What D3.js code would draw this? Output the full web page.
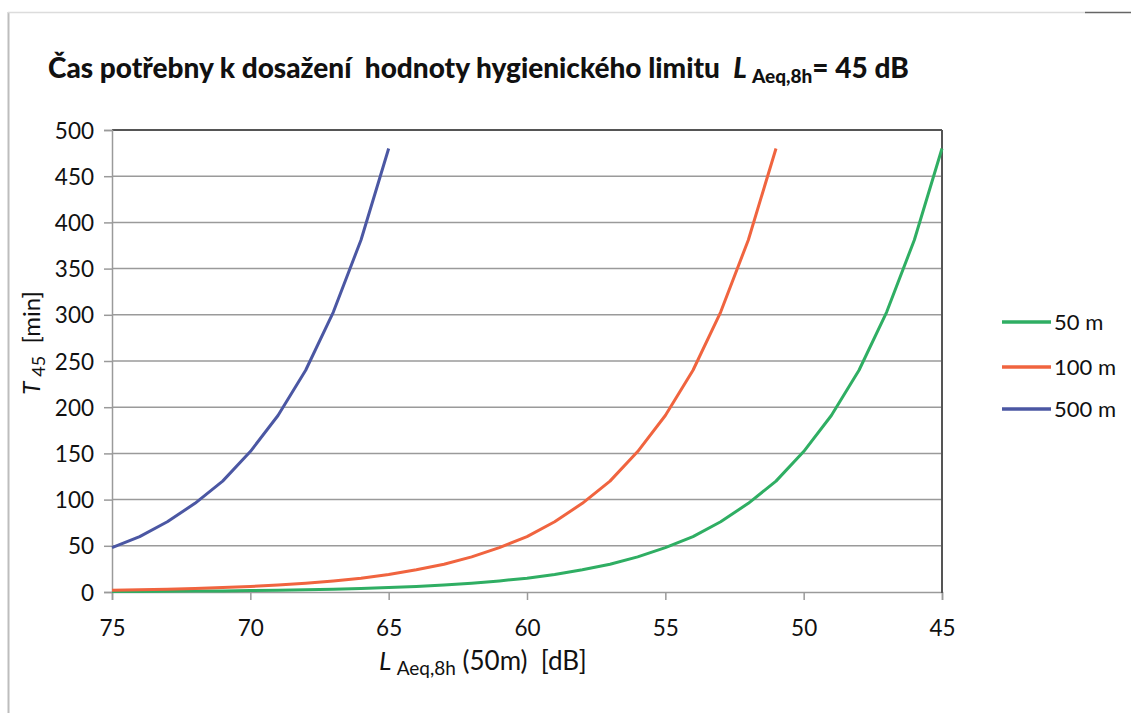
<!DOCTYPE html>
<html><head><meta charset="utf-8">
<script src="https://cdn.jsdelivr.net/npm/d3@7"></script>
<style>body{margin:0;background:#fff;} svg{display:block;font-family:Lato,"Open Sans",sans-serif;} text{white-space:pre;}</style>
</head><body><svg id="c" width="1131" height="713"></svg>
<script>
const levels50 = [75,74,73,72,71,70,69,68,67,66,65,64,63,62,61,60,59,58,57,56,55,54,53,52,51,50,49,48,47,46,45];
const t50 = [0.5,0.6,0.8,1.0,1.2,1.5,1.9,2.4,3.0,3.8,4.8,6.0,7.6,9.6,12,15,19,24,30,38,48,60,76,96,120,152,191,240,303,381,480];
const levels100 = [75,74,73,72,71,70,69,68,67,66,65,64,63,62,61,60,59,58,57,56,55,54,53,52,51];
const t100 = [1.9,2.4,3.0,3.8,4.8,6.0,7.6,9.6,12,15,19,24,30,38,48,60,76,96,120,152,191,240,303,381,480];
const levels500 = [75,74,73,72,71,70,69,68,67,66,65];
const t500 = [48,60,76,96,120,152,191,240,303,381,480];
const seriesNames = ["50 m","100 m","500 m"];
const seriesColors = ["#2fae63","#f0643f","#4b57a3"];
const xTicks = [75,70,65,60,55,50,45];
const yTicks = [0,50,100,150,200,250,300,350,400,450,500];

const svg = d3.select("#c");
const L=112, R=942, T=130, B=592;
const x = d3.scaleLinear().domain([75,45]).range([L,R]);
const y = d3.scaleLinear().domain([0,500]).range([B,T]);

// outer frame (scanned)
svg.append("line").attr("x1",8.5).attr("x2",8.5).attr("y1",12).attr("y2",713).attr("stroke","#bdbdbd").attr("stroke-width",2);
svg.append("line").attr("x1",8).attr("x2",1085).attr("y1",12.5).attr("y2",12.5).attr("stroke","#dcdcdc").attr("stroke-width",1.5);
svg.append("line").attr("x1",1085).attr("x2",1131).attr("y1",12.5).attr("y2",12.5).attr("stroke","#666").attr("stroke-width",1.5);

// gridlines
svg.append("g").selectAll("line").data(yTicks.filter(d=>d>0)).join("line")
  .attr("x1",L).attr("x2",R).attr("y1",d=>y(d)).attr("y2",d=>y(d))
  .attr("stroke",d=>d===500?"#555":"#9a9a9a").attr("stroke-width",d=>d===500?2:1.5);

// axes
const yAxis = svg.append("g").attr("transform",`translate(${L},0)`)
  .call(d3.axisLeft(y).tickValues(yTicks).tickSize(8).tickPadding(10));
const xAxis = svg.append("g").attr("transform",`translate(0,${B})`)
  .call(d3.axisBottom(x).tickValues(xTicks).tickSize(8).tickPadding(20));
[yAxis,xAxis].forEach(g=>{
  g.select(".domain").attr("stroke","#9a9a9a").attr("stroke-width",1.5);
  g.selectAll(".tick line").attr("stroke","#9a9a9a").attr("stroke-width",1.5);
  g.selectAll("text").attr("font-family","Lato, 'Open Sans', sans-serif").attr("font-size",22.5).attr("fill","#111");
});
yAxis.selectAll("text").attr("dy","0.36em");
// right border
svg.append("line").attr("x1",R).attr("x2",R).attr("y1",T).attr("y2",B+1).attr("stroke","#555").attr("stroke-width",2);

// series
const data = [
  levels50.map((l,i)=>[l,t50[i]]),
  levels100.map((l,i)=>[l,t100[i]]),
  levels500.map((l,i)=>[l,t500[i]])
];
const line = d3.line().x(d=>x(d[0])).y(d=>y(d[1]));
data.forEach((s,i)=>{
  svg.append("path").attr("d",line(s)).attr("fill","none")
    .attr("stroke",seriesColors[i]).attr("stroke-width",3).attr("stroke-linejoin","round");
});

// legend
const lg = svg.append("g");
[322,367,409].forEach((yy,i)=>{
  lg.append("line").attr("x1",1002).attr("x2",1051).attr("y1",yy).attr("y2",yy)
    .attr("stroke",seriesColors[i]).attr("stroke-width",3.5);
  lg.append("text").attr("x",1054).attr("y",yy+8).attr("font-size",22).attr("fill","#111").text(seriesNames[i]);
});

// title
const t = svg.append("text").attr("x",48).attr("y",78).attr("font-size",28).attr("font-weight","900").attr("fill","#111");
t.append("tspan").text("Čas potřebny k dosažení  hodnoty hygienického limitu  ");
t.append("tspan").attr("font-style","italic").text("L ");
t.append("tspan").attr("font-size",19).attr("dy",5).text("Aeq,8h");
t.append("tspan").attr("dy",-5).text("= 45 dB");

// x label
const xl = svg.append("text").attr("x",379).attr("y",670).attr("font-size",26).attr("fill","#111");
xl.append("tspan").attr("font-style","italic").text("L ");
xl.append("tspan").attr("font-size",19).attr("dy",5).text("Aeq,8h");
xl.append("tspan").attr("dy",-5).text(" (50m)  [dB]");

// y label
const yl = svg.append("text").attr("transform","translate(40,343) rotate(-90)").attr("text-anchor","middle").attr("font-size",24).attr("fill","#111");
yl.append("tspan").attr("font-style","italic").text("T ");
yl.append("tspan").attr("font-size",18).attr("dy",5).text("45");
yl.append("tspan").attr("dy",-5).text("  [min]");
</script></body></html>
